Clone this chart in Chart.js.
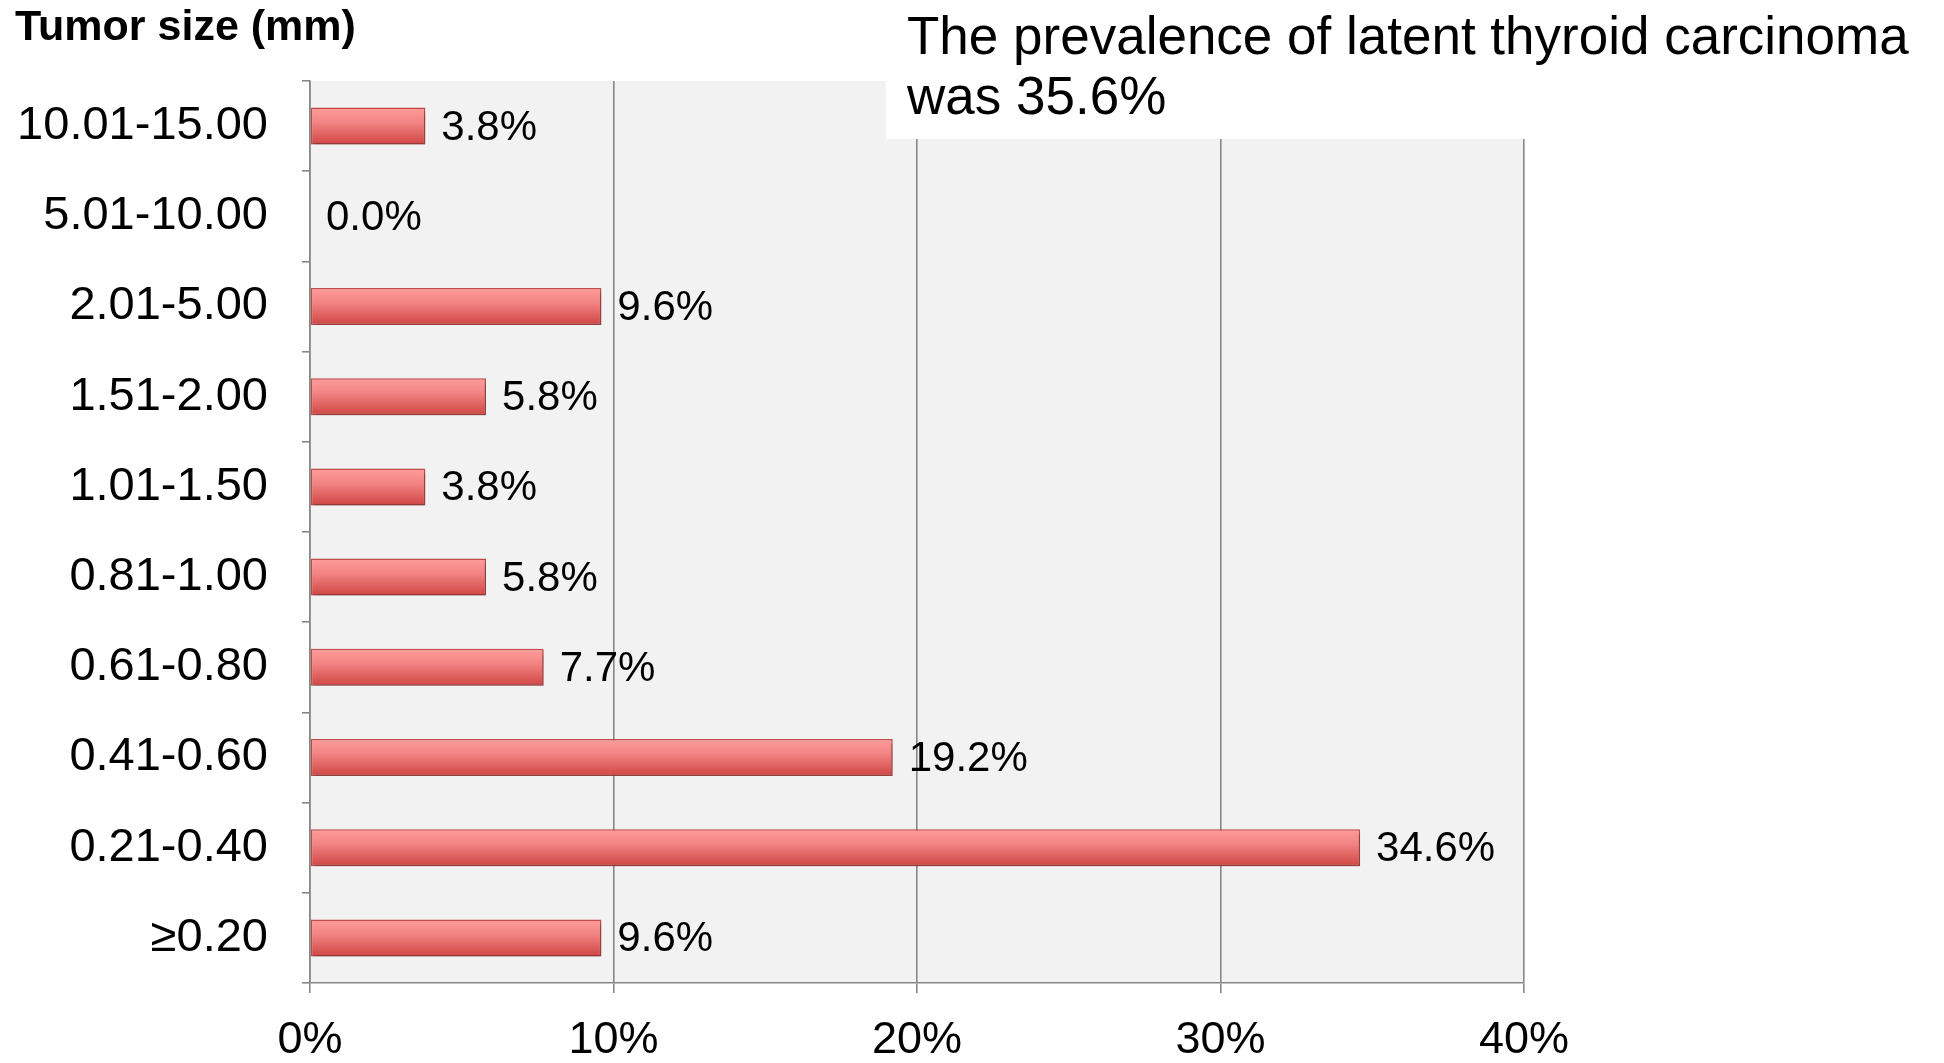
<!DOCTYPE html>
<html>
<head>
<meta charset="utf-8">
<script src="https://cdn.jsdelivr.net/npm/chart.js@4.4.1/dist/chart.umd.min.js"></script>
<style>
  body { margin: 0; background: #ffffff; }
  canvas { display: block; }
</style>
</head>
<body>
<canvas id="tumorChart" width="1944" height="1063"></canvas>
<script>
// === Data ===
const sizeLabels = ['10.01-15.00', '5.01-10.00', '2.01-5.00', '1.51-2.00', '1.01-1.50',
                    '0.81-1.00', '0.61-0.80', '0.41-0.60', '0.21-0.40', '≥0.20'];
const sizeShares = [3.8, 0.0, 9.6, 5.8, 3.8, 5.8, 7.7, 19.2, 34.6, 9.6];  // percent
const xTickValues = [0, 10, 20, 30, 40];
const axisTitle = 'Tumor size (mm)';
const noteLines = ['The prevalence of latent thyroid carcinoma', 'was 35.6%'];

const FONT = '"Liberation Sans", Arial, Helvetica, sans-serif';
const gridGray = '#878787';

// vertical gradient for each bar, built from the y scale position
function barFill(ctx) {
  const chart = ctx.chart;
  const yScale = chart.scales && chart.scales.y;
  if (!yScale || !chart.chartArea) return '#e46c6a';
  const yc = yScale.getPixelForValue(ctx.dataIndex);
  const half = 19;
  const g = chart.ctx.createLinearGradient(0, yc - half, 0, yc + half);
  g.addColorStop(0, '#ff9e9d');
  g.addColorStop(0.4, '#f28483');
  g.addColorStop(1, '#cf4442');
  return g;
}

// plot background
const plotBackground = {
  id: 'plotBackground',
  beforeDraw(chart) {
    const { ctx, chartArea } = chart;
    ctx.save();
    ctx.fillStyle = '#f2f2f2';
    ctx.fillRect(chartArea.left, chartArea.top, chartArea.right - chartArea.left, chartArea.bottom - chartArea.top);
    ctx.restore();
  }
};

// soft shadow under bars
const barShadow = {
  id: 'barShadow',
  beforeDatasetDraw(chart) {
    const ctx = chart.ctx;
    ctx.save();
    ctx.shadowColor = 'rgba(0,0,0,0.28)';
    ctx.shadowBlur = 4;
    ctx.shadowOffsetX = 2;
    ctx.shadowOffsetY = 3;
  },
  afterDatasetDraw(chart) {
    chart.ctx.restore();
  }
};

// value labels, axis title and the note box
const annotations = {
  id: 'annotations',
  afterDraw(chart) {
    const ctx = chart.ctx;
    const meta = chart.getDatasetMeta(0);
    ctx.save();
    ctx.fillStyle = '#000000';
    ctx.font = '42px ' + FONT;
    ctx.textAlign = 'left';
    ctx.textBaseline = 'middle';
    meta.data.forEach((bar, i) => {
      ctx.fillText(sizeShares[i].toFixed(1) + '%', bar.x + 16, bar.y + 2);
    });

    ctx.font = 'bold 43px ' + FONT;
    ctx.textBaseline = 'alphabetic';
    ctx.fillText(axisTitle, 15, 40);

    ctx.fillStyle = '#ffffff';
    ctx.fillRect(886, 0, 1058, 139);
    ctx.fillStyle = '#000000';
    ctx.font = '53px ' + FONT;
    ctx.fillText(noteLines[0], 907, 54);
    ctx.fillText(noteLines[1], 907, 114);
    ctx.restore();
  }
};

new Chart(document.getElementById('tumorChart'), {
  type: 'bar',
  data: {
    labels: sizeLabels,
    datasets: [{
      data: sizeShares,
      backgroundColor: barFill,
      borderColor: '#c24c4a',
      borderWidth: ctx => (sizeShares[ctx.dataIndex] > 0 ? 1.5 : 0),
      borderSkipped: false,
      categoryPercentage: 1.0,
      barPercentage: 0.41
    }]
  },
  options: {
    indexAxis: 'y',
    responsive: false,
    animation: false,
    layout: { padding: { top: 81, right: 420, left: 0, bottom: 0 } },
    plugins: {
      legend: { display: false },
      tooltip: { enabled: false }
    },
    scales: {
      x: {
        min: 0,
        max: 40,
        afterBuildTicks: scale => { scale.ticks = xTickValues.map(v => ({ value: v })); },
        afterFit: scale => { scale.height = 80; },
        ticks: {
          color: '#000000',
          font: { size: 45, family: FONT },
          padding: 21,
          maxRotation: 0,
          callback: v => v + '%'
        },
        grid: { color: gridGray, lineWidth: 1.6, tickLength: 10, tickColor: gridGray },
        border: { color: gridGray, width: 1.6 }
      },
      y: {
        afterFit: scale => { scale.width = 310; },
        ticks: {
          color: '#000000',
          font: { size: 47, family: FONT },
          padding: 34
        },
        grid: { drawOnChartArea: false, color: gridGray, lineWidth: 1.6, tickLength: 8, offset: true },
        border: { color: gridGray, width: 1.6 }
      }
    }
  },
  plugins: [plotBackground, barShadow, annotations]
});
</script>
</body>
</html>
